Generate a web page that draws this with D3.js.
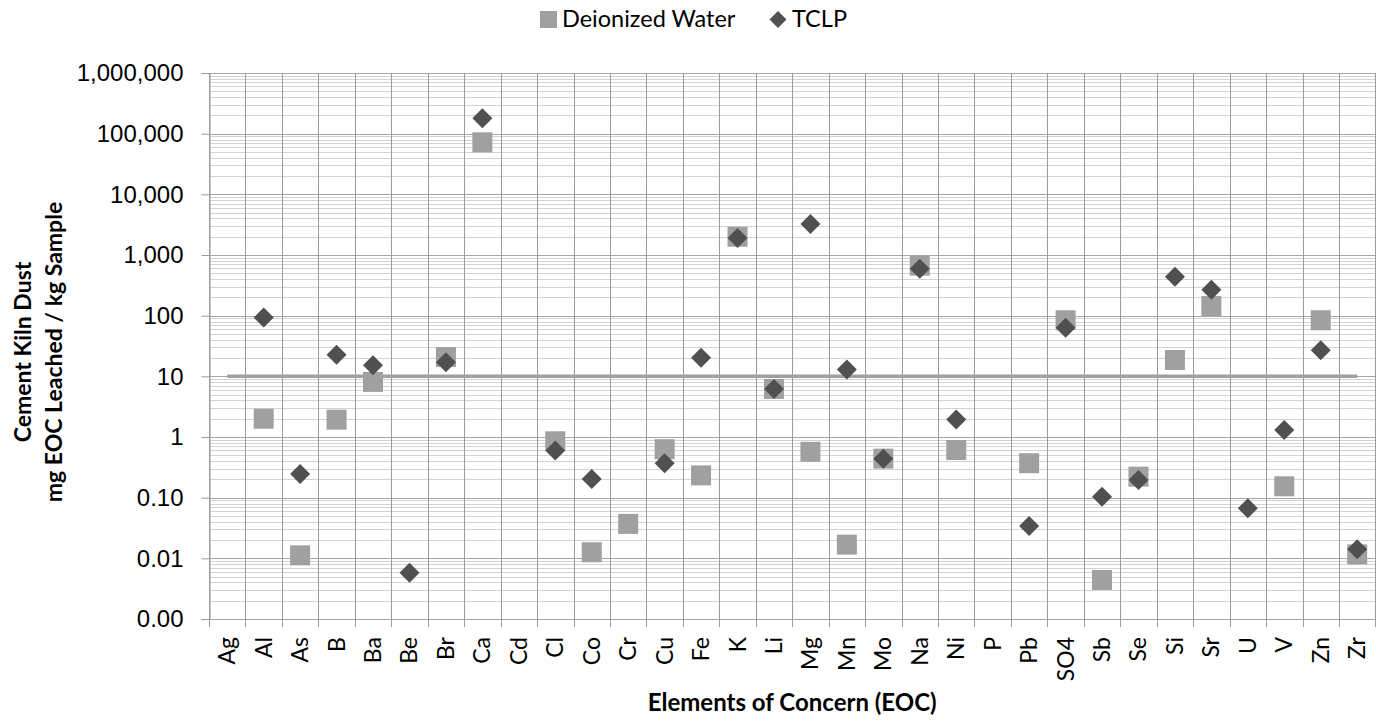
<!DOCTYPE html>
<html>
<head>
<meta charset="utf-8">
<script src="https://cdn.jsdelivr.net/npm/d3@7/dist/d3.min.js"></script>
<style>
  html, body { margin: 0; padding: 0; background: #fff; }
  svg { display: block; }
</style>
</head>
<body>
<svg id="chart" width="1376" height="722"></svg>
<script>
// Elements of concern along the category axis
const categories = ["Ag","Al","As","B","Ba","Be","Br","Ca","Cd","Cl","Co","Cr","Cu","Fe","K","Li",
  "Mg","Mn","Mo","Na","Ni","P","Pb","SO4","Sb","Se","Si","Sr","U","V","Zn","Zr"];

// mg EOC leached per kg sample (null = not reported)
const deionizedWater = [null, 2.0, 0.0112, 1.93, 8.1, null, 20.8, 72000, null, 0.85, 0.0126, 0.037,
  0.63, 0.233, 2000, 6.2, 0.57, 0.0168, 0.44, 667, 0.61, null, 0.37, 84, 0.0044, 0.222, 18.6, 144,
  null, 0.154, 84, 0.0116];
const tclp = [null, 93, 0.245, 22.7, 15.2, 0.0058, 17.0, 179000, null, 0.60, 0.203, null,
  0.368, 20.3, 1900, 6.2, 3240, 12.9, 0.44, 594, 1.95, null, 0.034, 63.4, 0.104, 0.195, 438, 268,
  0.0667, 1.30, 26.9, 0.0141];

// Reference level drawn across all elements
const referenceLevel = 10;

// Y axis major ticks and their labels
const yTickValues = [0.001, 0.01, 0.1, 1, 10, 100, 1000, 10000, 100000, 1000000];
const yTickLabels = ["0.00", "0.01", "0.10", "1", "10", "100", "1,000", "10,000", "100,000", "1,000,000"];

const seriesNames = ["Deionized Water", "TCLP"];

const margin = { top: 73, right: 0.6, bottom: 103, left: 209 };
const W = 1376, H = 722;
const svg = d3.select("#chart");

const x = d3.scaleBand().domain(categories).range([margin.left, W - margin.right]).padding(0);
const y = d3.scaleLog().domain([0.001, 1000000]).range([H - margin.bottom, margin.top]);

const plotLeft = margin.left, plotRight = W - margin.right;
const plotTop = margin.top, plotBottom = H - margin.bottom;

const grid = svg.append("g");

// minor horizontal gridlines (2..9 within each decade)
const minorTicks = [];
for (let e = -3; e < 6; e++) for (let m = 2; m <= 9; m++) minorTicks.push(m * Math.pow(10, e));
grid.selectAll("line.minor").data(minorTicks).join("line")
  .attr("x1", plotLeft).attr("x2", plotRight)
  .attr("y1", d => Math.round(y(d)) + 0.5).attr("y2", d => Math.round(y(d)) + 0.5)
  .attr("stroke", "#d3d3d3").attr("stroke-width", 1);

// major horizontal gridlines
grid.selectAll("line.major").data(yTickValues).join("line")
  .attr("x1", plotLeft).attr("x2", plotRight)
  .attr("y1", d => Math.round(y(d)) + 0.5).attr("y2", d => Math.round(y(d)) + 0.5)
  .attr("stroke", "#a6a6a6").attr("stroke-width", 1);

// vertical gridlines at category boundaries
const boundaries = categories.map(c => x(c)).concat([plotRight]);
grid.selectAll("line.vert").data(boundaries).join("line")
  .attr("x1", d => Math.round(d) + 0.5).attr("x2", d => Math.round(d) + 0.5)
  .attr("y1", plotTop).attr("y2", plotBottom + 8)
  .attr("stroke", "#9a9a9a").attr("stroke-width", 1);

// y axis
const yAxis = d3.axisLeft(y).tickValues(yTickValues)
  .tickFormat((d, i) => yTickLabels[i]).tickSize(8).tickPadding(18);
const gy = svg.append("g").attr("transform", `translate(${plotLeft + 0.5},0)`).call(yAxis);
gy.select(".domain").attr("stroke", "#9a9a9a");
gy.selectAll(".tick line").attr("stroke", "#9a9a9a");
gy.selectAll(".tick text").attr("font-family", "'Liberation Sans', Arial, sans-serif")
  .attr("font-size", 24).attr("fill", "#000");

// x category labels (rotated)
svg.append("g").selectAll("text").data(categories).join("text")
  .attr("transform", d => `translate(${x(d) + x.bandwidth() / 2 + 8},${plotBottom + 18}) rotate(-90)`)
  .attr("text-anchor", "end")
  .attr("font-family", "Lato, 'Open Sans', sans-serif").attr("font-size", 23).attr("fill", "#000")
  .text(d => d);

// reference line
svg.append("line")
  .attr("x1", x(categories[0]) + x.bandwidth() / 2)
  .attr("x2", x(categories[categories.length - 1]) + x.bandwidth() / 2)
  .attr("y1", y(referenceLevel)).attr("y2", y(referenceLevel))
  .attr("stroke", "#a0a0a0").attr("stroke-width", 3.5);

const squareColor = "#a0a0a0";
const diamondColor = "#505050";
const sq = 20, dia = 10;

// Deionized Water markers
svg.append("g").selectAll("rect").data(categories.map((c, i) => ({ c, v: deionizedWater[i] })).filter(d => d.v != null))
  .join("rect")
  .attr("x", d => x(d.c) + x.bandwidth() / 2 - sq / 2)
  .attr("y", d => y(d.v) - sq / 2)
  .attr("width", sq).attr("height", sq)
  .attr("fill", squareColor);

// TCLP markers
const diamondPath = `M0,${-dia}L${dia},0L0,${dia}L${-dia},0Z`;
svg.append("g").selectAll("path").data(categories.map((c, i) => ({ c, v: tclp[i] })).filter(d => d.v != null))
  .join("path")
  .attr("transform", d => `translate(${x(d.c) + x.bandwidth() / 2},${y(d.v)})`)
  .attr("d", diamondPath)
  .attr("fill", diamondColor);

// legend
const legend = svg.append("g").attr("font-family", "Lato, 'Open Sans', sans-serif").attr("font-size", 23.5);
legend.append("rect").attr("x", 540).attr("y", 11).attr("width", 17).attr("height", 17).attr("fill", squareColor);
legend.append("text").attr("x", 562).attr("y", 27).text(seriesNames[0]);
legend.append("path").attr("transform", "translate(778,19.5)").attr("d", "M0,-8.5L8.5,0L0,8.5L-8.5,0Z").attr("fill", diamondColor);
legend.append("text").attr("x", 792).attr("y", 27).text(seriesNames[1]);

// axis titles
svg.append("text")
  .attr("x", (plotLeft + plotRight) / 2).attr("y", 711)
  .attr("text-anchor", "middle")
  .attr("font-family", "Lato, 'Open Sans', sans-serif").attr("font-weight", "bold").attr("font-size", 24)
  .text("Elements of Concern (EOC)");

const yt = svg.append("text")
  .attr("transform", `translate(0,${(plotTop + plotBottom) / 2 + 6}) rotate(-90)`)
  .attr("text-anchor", "middle")
  .attr("font-family", "Lato, 'Open Sans', sans-serif").attr("font-weight", "bold").attr("font-size", 23);
yt.append("tspan").attr("x", 0).attr("y", 31).text("Cement Kiln Dust");
yt.append("tspan").attr("x", 0).attr("y", 62).text("mg EOC Leached / kg Sample");
</script>
</body>
</html>
